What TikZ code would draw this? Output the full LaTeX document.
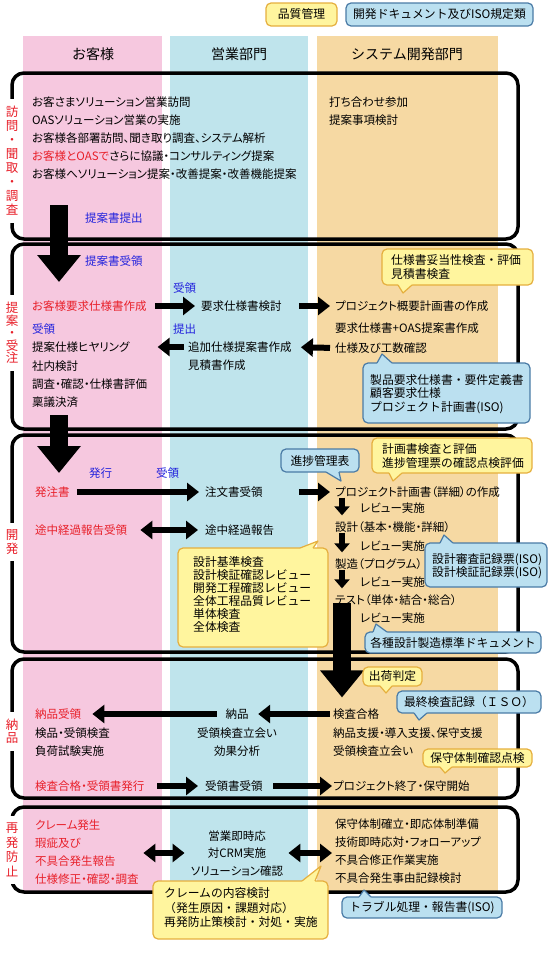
\documentclass[tikz,border=0pt]{standalone}
\usepackage{fontspec}
\newfontfamily\jpb{Noto Sans CJK JP}[RawFeature=+palt]
\newfontfamily\jpm{Noto Sans CJK JP}
\usetikzlibrary{arrows.meta,calc}
\definecolor{colpink}{HTML}{F6C8DF}
\definecolor{colblue}{HTML}{BFE4EC}
\definecolor{colorange}{HTML}{F6D9A3}
\definecolor{cyfill}{HTML}{FFF59E}
\definecolor{cyline}{HTML}{E5AF3E}
\definecolor{cbfill}{HTML}{BBE0F0}
\definecolor{cbline}{HTML}{4A7BA6}
\definecolor{redt}{HTML}{E8202A}
\definecolor{bluet}{HTML}{2222DD}
\newcommand{\ctail}[7]{%
  \fill[#1] (#3,#6) -- (#3,#5) -- #7 -- (#4,#5) -- (#4,#6) -- cycle;
  \draw[#2,line width=1.2pt,line join=round] (#3,#5) -- #7 -- (#4,#5);}
\begin{document}
\begin{tikzpicture}[x=1pt,y=-1pt,
  t/.style={anchor=west,inner sep=0pt,font=\jpb\fontsize{11.5}{13}\selectfont},
  tc/.style={t,anchor=center},
  tr/.style={t,text=redt},
  tb/.style={t,text=bluet},
  hd/.style={inner sep=0pt,font=\jpm\fontsize{14}{16}\selectfont},
  lab/.style={fill=white,text=redt,align=center,inner xsep=2pt,inner ysep=7pt,font=\jpm\fontsize{12.5}{#1}\selectfont},
  sec/.style={draw=black,line width=3.5pt,rounded corners=12pt},
  cy/.style={draw=cyline,fill=cyfill,line width=1.2pt,rounded corners=5pt},
  cb/.style={draw=cbline,fill=cbfill,line width=1.2pt,rounded corners=5pt},
  ct/.style={anchor=west,inner sep=0pt,align=left,font=\jpm\fontsize{11.8}{13.5}\selectfont},
  ctc/.style={ct,anchor=center,align=center},
  harrow/.style={line width=6pt,-{Triangle[width=18pt,length=12pt]}},
  darrow/.style={line width=6pt,{Triangle[width=18pt,length=12pt]}-{Triangle[width=18pt,length=12pt]}},
  varrow/.style={line width=6.5pt,-{Triangle[width=15pt,length=9pt]}},
  bigarrow/.style={line width=18pt,-{Triangle[width=42pt,length=27pt]}}
]
\useasboundingbox (0,0) rectangle (550,967);
% columns
\fill[colpink] (23,36) rectangle (162,892);
\fill[colblue] (170,36) rectangle (308,892);
\fill[colorange] (317,36) rectangle (498,892);
\node[hd] (h1) at (93,54) {お客様};
\node[hd] (h2) at (239,54) {営業部門};
\node[hd] (h3) at (407,54) {システム開発部門};
% legend
\draw[cy] (266,3) rectangle (337,26);
\node[ctc] (lg1) at (301.5,14.5) {品質管理};
\draw[cb] (346,3) rectangle (533,26);
\node[ctc] (lg2) at (439.5,14.5) {開発ドキュメント及びISO規定類};
% sections
\draw[sec] (12,73) rectangle (518,239);
\draw[sec] (12,244) rectangle (518,429);
\draw[sec] (12,435) rectangle (518,652);
\draw[sec] (12,659) rectangle (518,798);
\draw[sec] (12,807) rectangle (518,892);
\node[lab=14] (L1) at (12,161) {訪\\問\\・\\聞\\取\\・\\調\\査};
\node[lab=12.5] (L2) at (12,333) {提\\案\\・\\受\\注};
\node[lab=13.5] (L3) at (12,542) {開\\発};
\node[lab=13.5] (L4) at (12,731) {納\\品};
\node[lab=14.5] (L5) at (12,850) {再\\発\\防\\止};
% section 1
\node[t] (s1a) at (32,102) {お客さまソリューション営業訪問};
\node[t] (s1b) at (32,120) {OASソリューション営業の実施};
\node[t] (s1c) at (32,138) {お客様各部署訪問、聞き取り調査、システム解析};
\node[t] (s1d) at (32,156) {\textcolor{redt}{お客様とOASで}さらに協議・コンサルティング提案};
\node[t] (s1e) at (32,174) {お客様へソリューション提案・改善提案・改善機能提案};
\node[t] (s1f) at (329,102) {打ち合わせ参加};
\node[t] (s1g) at (329,120) {提案事項検討};
\node[tb] (s1h) at (85,218) {提案書提出};
% section 2
\node[tb] (s2a) at (85,261) {提案書受領};
\node[tb] (s2b) at (173,288) {受領};
\node[tr] (s2c) at (32,306) {お客様要求仕様書作成};
\node[t] (s2d) at (201,306) {要求仕様書検討};
\node[t] (s2e) at (335,306) {プロジェクト概要計画書の作成};
\node[t] (s2f) at (335,328) {要求仕様書+OAS提案書作成};
\node[t] (s2g) at (335,348) {仕様及び工数確認};
\node[tb] (s2h) at (32,329) {受領};
\node[tb] (s2i) at (173,329) {提出};
\node[t] (s2j) at (32,347) {提案仕様ヒヤリング};
\node[t] (s2k) at (32,366) {社内検討};
\node[t] (s2l) at (32,384) {調査・確認・仕様書評価};
\node[t] (s2m) at (32,402) {稟議決済};
\node[t] (s2n) at (188,347) {追加仕様提案書作成};
\node[t] (s2o) at (188,365) {見積書作成};
\draw[harrow,shorten <=8pt,shorten >=6pt] (s2c.east) -- (s2d.west);
\draw[harrow,shorten <=17pt,shorten >=5pt] (s2d.east) -- (s2e.west);
\draw[harrow,shorten <=5pt,shorten >=9pt] (s2g.west) -- (s2n.east);
\draw[harrow,shorten <=4pt,shorten >=28pt] (s2n.west) -- (s2j.east);
% section 3
\node[tb] (s3a) at (89,473) {発行};
\node[tb] (s3b) at (156,473) {受領};
\node[tr] (s3c) at (35,492) {発注書};
\node[t] (s3d) at (205,492) {注文書受領};
\node[t] (s3e) at (335,492) {プロジェクト計画書（詳細）の作成};
\node[t] (s3f) at (360,508) {レビュー実施};
\node[t] (s3g) at (335,527) {設計（基本・機能・詳細）};
\node[t] (s3h) at (360,546) {レビュー実施};
\node[t] (s3i) at (335,564) {製造（プログラム）};
\node[t] (s3j) at (360,582) {レビュー実施};
\node[t] (s3k) at (335,600) {テスト（単体・結合・総合）};
\node[t] (s3l) at (360,618) {レビュー実施};
\node[tr] (s3m) at (35,530) {途中経過報告受領};
\node[t] (s3n) at (205,530) {途中経過報告};
\draw[harrow,shorten <=7pt,shorten >=6pt] (s3c.east) -- (s3d.west);
\draw[harrow,shorten <=36pt,shorten >=5pt] (s3d.east) -- (s3e.west);
\draw[darrow,shorten <=13pt,shorten >=7pt] (s3m.east) -- (s3n.west);
\draw[varrow,shorten >=6pt] ([xshift=7pt]s3e.south west) -- ([xshift=7pt]s3g.north west);
\draw[varrow,shorten >=6pt] ([xshift=7pt]s3g.south west) -- ([xshift=7pt]s3i.north west);
\draw[varrow,shorten >=6pt] ([xshift=7pt]s3i.south west) -- ([xshift=7pt]s3k.north west);
% section 4
\node[tr] (s4a) at (35,714) {納品受領};
\node[tc] (s4b) at (237,714) {納品};
\node[t] (s4c) at (333,714) {検査合格};
\node[t] (s4d) at (35,733) {検品・受領検査};
\node[t] (s4e) at (35,751) {負荷試験実施};
\node[tc] (s4f) at (237,733) {受領検査立会い};
\node[tc] (s4g) at (237,751) {効果分析};
\node[t] (s4h) at (333,733) {納品支援・導入支援、保守支援};
\node[t] (s4i) at (333,751) {受領検査立会い};
\node[tr] (s4j) at (35,786) {検査合格・受領書発行};
\node[t] (s4k) at (205,786) {受領書受領};
\node[t] (s4l) at (333,786) {プロジェクト終了・保守開始};
\draw[harrow,shorten <=3pt,shorten >=9.5pt] (s4c.west) -- (s4b.east);
\draw[harrow,shorten <=8.5pt,shorten >=11pt] (s4b.west) -- (s4a.east);
\draw[harrow,shorten <=12.5pt,shorten >=7pt] (s4j.east) -- (s4k.west);
\draw[harrow,shorten <=10.5pt,shorten >=1pt] (s4k.east) -- (s4l.west);
% section 5
\node[tr] (s5a) at (35,825) {クレーム発生};
\node[tr] (s5b) at (35,843) {瑕疵及び};
\node[tr] (s5c) at (35,861) {不具合発生報告};
\node[tr] (s5d) at (35,879) {仕様修正・確認・調査};
\node[tc] (s5e) at (237,836) {営業即時応};
\node[tc] (s5f) at (237,853) {対CRM実施};
\node[tc] (s5g) at (237,871) {ソリューション確認};
\node[t] (s5h) at (335,824) {保守体制確立・即応体制準備};
\node[t] (s5i) at (335,842) {技術即時応対・フォローアップ};
\node[t] (s5j) at (335,860) {不具合修正作業実施};
\node[t] (s5k) at (335,878) {不具合発生事由記録検討};
\draw[darrow,shorten <=27.5pt,shorten >=23pt] (s5c.east |- s5f.west) -- (s5f.west);
\draw[darrow,shorten <=22pt,shorten >=3pt] (s5f.east) -- (s5j.west |- s5f.east);
% big arrows
\coordinate (b1s) at (59,205);
\coordinate (b1e) at (59,282);
\coordinate (b2s) at (59,415);
\coordinate (b2e) at (59,473);
\draw[bigarrow] (b1s) -- (b1e);
\draw[bigarrow] (b2s) -- (b2e);
\draw[bigarrow,shorten <=-3pt,shorten >=11pt] ([xshift=7pt]s3k.south west) -- ([xshift=9pt]s4c.north west);
% callouts
\draw[cy] (382,249) rectangle (533,285);
\ctail{cyfill}{cyline}{398}{412}{285}{283.5}{(403,293)}
\node[ct] (cy2) at (391,267) {仕様書妥当性検査・評価\\見積書検査};
\draw[cb] (363,363) rectangle (530,423);
\ctail{cbfill}{cbline}{377}{392}{363}{364.5}{(382,354)}
\node[ct] (cb2) at (370,394) {製品要求仕様書・要件定義書\\顧客要求仕様\\プロジェクト計画書(ISO)};
\draw[cb] (281,449) rectangle (359,472);
\ctail{cbfill}{cbline}{326}{339}{472}{470.5}{(341,481)}
\node[ctc] (cb3) at (320,460.5) {進捗管理表};
\draw[cy] (372,438) rectangle (532,473);
\ctail{cyfill}{cyline}{389}{402}{473}{471.5}{(393,481)}
\node[ct] (cy3) at (382,456) {計画書検査と評価\\進捗管理票の確認点検評価};
\draw[cy] (178,548) rectangle (328,647);
\ctail{cyfill}{cyline}{300}{313}{548}{549.5}{(318,541)}
\node[ct,font=\jpm\fontsize{11.8}{13}\selectfont] (cy4) at (193,595) {設計基準検査\\設計検証確認レビュー\\開発工程確認レビュー\\全体工程品質レビュー\\単体検査\\全体検査};
\draw[cb] (425,543) rectangle (547,587);
\ctail{cbfill}{cbline}{440}{453}{543}{544.5}{(444,535)}
\node[ct] (cb4) at (432,566) {設計審査記録票(ISO)\\設計検証記録票(ISO)};
\draw[cb] (365,632) rectangle (541,653);
\ctail{cbfill}{cbline}{373}{387}{632}{633.5}{(376,624)}
\node[ctc] (cb5) at (453,642.5) {各種設計製造標準ドキュメント};
\draw[cy] (363,667) rectangle (422,686);
\ctail{cyfill}{cyline}{380}{392}{686}{684.5}{(386,693)}
\node[ctc] (cy5) at (392.5,676.5) {出荷判定};
\draw[cb] (397,691) rectangle (541,713);
\ctail{cbfill}{cbline}{414}{427}{713}{711.5}{(419,720)}
\node[ctc] (cb6) at (469,702) {最終検査記録（ＩＳＯ）};
\draw[cy] (423,749) rectangle (532,767);
\ctail{cyfill}{cyline}{440}{452}{767}{765.5}{(445,773)}
\node[ctc] (cy6) at (477.5,758) {保守体制確認点検};
\draw[cy] (153,881) rectangle (328,939);
\ctail{cyfill}{cyline}{302}{315}{881}{882.5}{(321,866)}
\node[ct,font=\jpm\fontsize{11.8}{14.5}\selectfont] (cy7) at (164,908) {クレームの内容検討\\（発生原因・課題対応）\\再発防止策検討・対処・実施};
\draw[cb] (342,897) rectangle (502,918);
\ctail{cbfill}{cbline}{359}{371}{897}{898.5}{(364,890)}
\node[ctc] (cb7) at (422,907.5) {トラブル処理・報告書(ISO)};
\end{tikzpicture}
\end{document}
